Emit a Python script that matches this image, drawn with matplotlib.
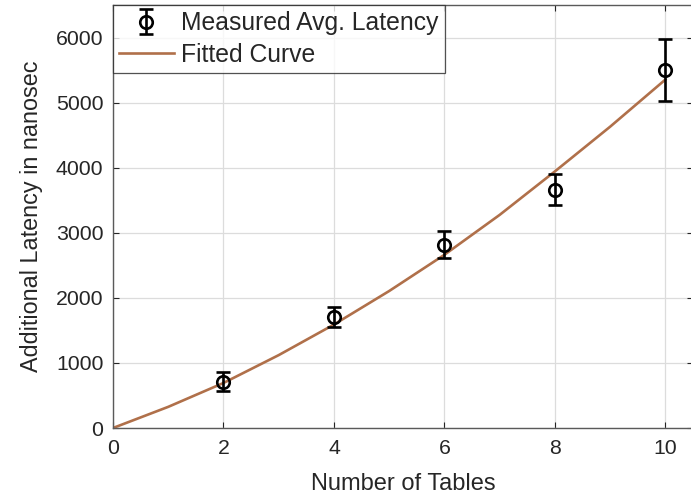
import matplotlib
matplotlib.use("Agg")
import matplotlib.pyplot as plt

# Data
tables = [2, 4, 6, 8, 10]
latency = [712, 1712, 2815, 3662, 5508]
latency_err = [150, 155, 205, 236, 477]

fit_x = [0, 1, 2, 3, 4, 5, 6, 7, 8, 9, 10]
fit_y = [0, 325, 692, 1120, 1590, 2105, 2662, 3275, 3943, 4630, 5354]

xticks = [0, 2, 4, 6, 8, 10]
yticks = [0, 1000, 2000, 3000, 4000, 5000, 6000]

plt.rcParams['font.family'] = ['Liberation Sans', 'DejaVu Sans']
txt = '#262626'

fig = plt.figure(figsize=(6.91, 4.97), dpi=100)
ax = fig.add_axes([113/691, 1 - 428/497, 580/691, 423/497])

eb = ax.errorbar(tables, latency, yerr=latency_err, fmt='o', color='black',
                 mfc='none', mec='black', ms=9, mew=1.9, elinewidth=1.9,
                 capsize=5, capthick=1.9, label='Measured Avg. Latency', zorder=3)
ln, = ax.plot(fit_x, fit_y, color='#B0704A', lw=1.9, label='Fitted Curve', zorder=2)

ax.set_xlim(0, 10.5)
ax.set_ylim(0, 6500)
ax.set_xticks(xticks)
ax.set_yticks(yticks)
ax.grid(True, color='#dcdcdc', lw=0.9)
ax.set_axisbelow(True)
ax.tick_params(direction='in', length=4, width=0.8, top=True, right=True,
               labelsize=15.3, colors=txt)
ax.tick_params(axis='x', pad=8)
ax.tick_params(axis='y', pad=7)
for s in ax.spines.values():
    s.set_color('#5a5a5a')
    s.set_linewidth(1.0)

ax.set_xlabel('Number of Tables', fontsize=17, color=txt, labelpad=11)
ax.set_ylabel('Additional Latency in nanosec', fontsize=16.8, color=txt, labelpad=9)

leg = ax.legend([eb, ln], ['Measured Avg. Latency', 'Fitted Curve'],
                loc='upper left', fontsize=17.8, frameon=True, fancybox=False,
                borderaxespad=0, handlelength=2.2, handletextpad=0.3,
                borderpad=0.25, labelspacing=0.3)
leg.get_frame().set_edgecolor('#262626')
leg.get_frame().set_linewidth(0.9)
for t in leg.get_texts():
    t.set_color(txt)

fig.savefig('out.png', dpi=100)
